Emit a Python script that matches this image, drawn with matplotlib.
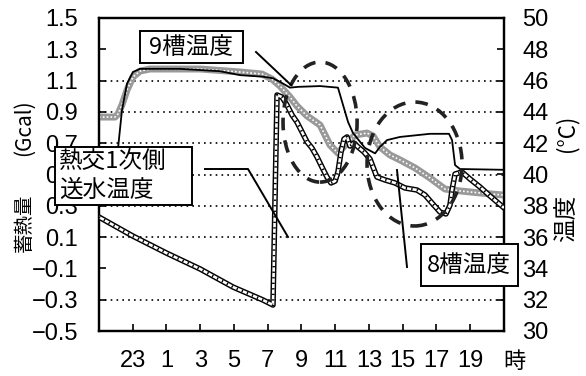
import matplotlib
matplotlib.use("Agg")
import matplotlib.pyplot as plt
from matplotlib.patches import Ellipse, Rectangle
from matplotlib.lines import Line2D

# hours counted from 21:00, values above 24 belong to the next day
hours_supply = [21.0, 23.0, 25.0, 27.0, 28.94, 30.72, 31.31, 31.55, 31.84, 32.14,
                32.44, 32.73, 33.03, 33.33, 33.62, 33.92, 34.21, 34.51, 34.75, 34.99,
                35.16, 35.34, 35.52, 35.70, 35.87, 36.11, 36.35, 36.70, 37.06, 37.24,
                37.47, 37.95, 38.54, 39.13, 39.84, 40.32, 40.73, 41.21, 41.56, 41.80,
                41.92, 42.10, 42.51, 42.99, 43.58, 44.17, 44.94]
temp_supply = [37.28, 36.07, 34.98, 33.96, 32.81, 31.98, 31.66, 45.08, 44.95, 44.44,
               43.80, 43.35, 42.72, 42.08, 41.69, 41.12, 40.48, 39.84, 39.46, 39.58,
               40.16, 41.44, 42.27, 42.40, 41.82, 42.01, 41.76, 41.44, 40.99, 40.48,
               39.84, 39.65, 39.46, 39.14, 39.01, 38.69, 38.18, 37.60, 37.48, 38.05,
               39.01, 40.03, 40.16, 39.71, 39.20, 38.63, 37.92]

hours_tank9 = [21.0, 21.89, 22.07, 22.13, 22.36, 22.66, 23.01, 23.43, 25.80, 28.17,
               29.36, 30.72, 31.31, 31.84, 32.32, 32.79, 34.10, 35.16, 35.46, 35.76,
               36.05, 36.76, 37.36, 37.64, 38.07, 38.84, 40.61, 41.74, 41.92, 42.10,
               42.39, 45.0]
temp_tank9 = [39.0, 39.0, 40.9, 41.7, 44.1, 45.8, 46.55, 46.75, 46.75, 46.6,
              46.35, 46.25, 46.15, 45.85, 45.55, 45.6, 45.65, 45.55, 44.45, 43.35,
              42.65, 41.7, 41.35, 41.75, 42.2, 42.4, 42.6, 42.6, 42.2, 40.6,
              40.35, 40.3]

hours_tank8 = [21.0, 21.95, 22.13, 22.36, 22.66, 23.01, 23.43, 24.02, 26.99, 29.36,
               30.66, 31.25, 31.73, 32.32, 32.73, 33.33, 33.68, 34.10, 34.69, 35.16,
               35.70, 36.17, 36.88, 37.24, 37.65, 38.24, 38.84, 39.73, 40.61, 41.50,
               42.39, 43.58, 44.94]
temp_tank8 = [43.67, 43.67, 43.87, 44.44, 45.40, 46.23, 46.61, 46.74, 46.74, 46.55,
              46.42, 46.10, 45.65, 44.95, 44.38, 43.74, 43.48, 43.16, 41.88, 41.37,
              42.01, 42.52, 42.65, 42.46, 41.76, 41.25, 40.93, 40.42, 39.78, 39.07,
              38.95, 38.82, 38.69]

hour_ticks = [23, 25, 27, 29, 31, 33, 35, 37, 39, 41, 43]
hour_labels = ['23', '1', '3', '5', '7', '9', '11', '13', '15', '17', '19']
gcal_ticks = [1.5, 1.3, 1.1, 0.9, 0.7, 0.5, 0.3, 0.1, -0.1, -0.3, -0.5]
gcal_labels = ['1.5', '1.3', '1.1', '0.9', '0.7', '0.5', '0.3', '0.1', '\u22120.1', '\u22120.3', '\u22120.5']
gcal_grid = [1.1, 0.9, 0.7, 0.5, 0.3, 0.1, -0.3]
degc_ticks = [50, 48, 46, 44, 42, 40, 38, 36, 34, 32, 30]

plt.rcParams['font.family'] = ['Liberation Sans', 'DejaVu Sans']
CJK = ['Noto Sans CJK JP', 'DejaVu Sans']

W, H = 586, 376
fig = plt.figure(figsize=(W / 100, H / 100), dpi=100)
ax = fig.add_axes([99 / W, 1 - 331 / H, 405 / W, 313 / H])
ax2 = ax.twinx()


def fx(px):
    return px / W


def fy(py):
    return 1 - py / H


ax.set_xlim(21, 45)
ax.set_ylim(-0.5, 1.5)
ax2.set_ylim(30, 50)

for g in gcal_grid:
    ax.axhline(g, color='black', lw=1.2, ls=(0, (1, 2.5)), zorder=1)

ax.set_xticks(hour_ticks)
ax.set_xticklabels(hour_labels)
ax.set_yticks(gcal_ticks)
ax.set_yticklabels(gcal_labels)
ax2.set_yticks(degc_ticks)
ax2.set_yticklabels([str(t) for t in degc_ticks])

ax.tick_params(axis='x', direction='in', length=5, width=1.2, labelsize=17, pad=14)
ax.tick_params(axis='y', direction='in', length=5, width=1.2, labelsize=17, pad=15)
ax2.tick_params(axis='y', direction='in', length=5, width=1.2, labelsize=17, pad=13)
for a in (ax, ax2):
    for s in a.spines.values():
        s.set_linewidth(1.6)

# tank 8: grey stippled band
ax2.plot(hours_tank8, temp_tank8, color='#999999', lw=5, solid_joinstyle='round', zorder=2)
ax2.plot(hours_tank8, temp_tank8, color='white', lw=1.2, ls=(0, (1, 1.3)), zorder=2)

# supply water temperature: chain of open circles
ax2.plot(hours_supply, temp_supply, color='black', lw=4, solid_joinstyle='round', zorder=3)
ax2.plot(hours_supply, temp_supply, color='white', lw=1.9, solid_joinstyle='round', zorder=3)
ax2.plot(hours_supply, temp_supply, color='black', lw=1.9, ls=(0, (0.5, 1.6)), zorder=3)

# tank 9: thin black line
ax2.plot(hours_tank9, temp_tank9, color='black', lw=1.3, zorder=4)

# dashed rings marking the two disturbed periods
for (cx, cy, w, h) in [(34.10, 43.35, 4.39, 7.67), (39.70, 40.67, 5.63, 7.92)]:
    ax2.add_patch(Ellipse((cx, cy), w, h, fill=False, edgecolor='#222222',
                          lw=2.6, ls=(0, (3.5, 2.8)), zorder=5))

# label boxes
def label_box(x0, y0, x1, y1):
    fig.add_artist(Rectangle((fx(x0), fy(y1)), fx(x1) - fx(x0), fy(y0) - fy(y1),
                             transform=fig.transFigure, facecolor='white',
                             edgecolor='black', lw=1.4, zorder=10))


label_box(140, 31, 243, 63)
fig.text(fx(191), fy(47), '9槽温度', family=CJK, fontsize=17, ha='center', va='center', zorder=11)

label_box(55, 147, 192, 205)
fig.text(fx(59), fy(161), '熱交1次側', family=CJK, fontsize=17, ha='left', va='center', zorder=11)
fig.text(fx(59), fy(190), '送水温度', family=CJK, fontsize=17, ha='left', va='center', zorder=11)

label_box(421, 244, 518, 286)
fig.text(fx(469), fy(265), '8槽温度', family=CJK, fontsize=17, ha='center', va='center', zorder=11)

for xs, ys in [([205, 248, 288], [169, 169, 237]),
               ([256, 291], [52, 85]),
               ([407, 397], [267, 170])]:
    fig.add_artist(Line2D([fx(v) for v in xs], [fy(v) for v in ys],
                          transform=fig.transFigure, color='black', lw=1.4, zorder=9))

# axis titles
fig.text(fx(24), fy(128), '(Gcal)', family=CJK, fontsize=15, rotation=90, ha='center', va='center')
fig.text(fx(24), fy(223), '蓄熱量', family=CJK, fontsize=14, rotation=90, ha='center', va='center')
fig.text(fx(567), fy(133), '(°C)', family=CJK, fontsize=16, rotation=90, ha='center', va='center')
fig.text(fx(567), fy(218), '温度', family=CJK, fontsize=17, rotation=90, ha='center', va='center')
fig.text(fx(514), fy(362), '時', family=CJK, fontsize=16, ha='center', va='center')

fig.savefig('out.png', dpi=100)
